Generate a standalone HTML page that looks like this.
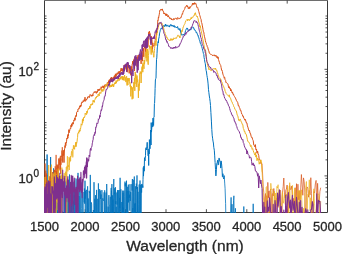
<!DOCTYPE html>
<html><head><meta charset="utf-8"><style>
html,body{margin:0;padding:0;background:#fff;width:342px;height:254px;overflow:hidden}
</style></head><body>
<svg width="342" height="254" viewBox="0 0 342 254" style="position:absolute;left:0;top:0;will-change:transform">
<defs><clipPath id="c"><rect x="44" y="0" width="284" height="213"/></clipPath></defs>
<path d="M44.5 0V212.5H327.5V0" fill="none" stroke="#3a3a3a" stroke-width="1"/>
<path d="M44 0.5H328" stroke="#6e6e6e" stroke-width="1"/>
<g stroke="#262626" stroke-width="0.8"><line x1="85.2" y1="212.5" x2="85.2" y2="209.2" /><line x1="85.2" y1="0.5" x2="85.2" y2="3.6" /><line x1="125.6" y1="212.5" x2="125.6" y2="209.2" /><line x1="125.6" y1="0.5" x2="125.6" y2="3.6" /><line x1="166.0" y1="212.5" x2="166.0" y2="209.2" /><line x1="166.0" y1="0.5" x2="166.0" y2="3.6" /><line x1="206.4" y1="212.5" x2="206.4" y2="209.2" /><line x1="206.4" y1="0.5" x2="206.4" y2="3.6" /><line x1="246.8" y1="212.5" x2="246.8" y2="209.2" /><line x1="246.8" y1="0.5" x2="246.8" y2="3.6" /><line x1="287.2" y1="212.5" x2="287.2" y2="209.2" /><line x1="287.2" y1="0.5" x2="287.2" y2="3.6" /><line x1="44.5" y1="203.77" x2="46.5" y2="203.77" /><line x1="327.5" y1="203.77" x2="325.5" y2="203.77" /><line x1="44.5" y1="197.11" x2="46.5" y2="197.11" /><line x1="327.5" y1="197.11" x2="325.5" y2="197.11" /><line x1="44.5" y1="191.94" x2="46.5" y2="191.94" /><line x1="327.5" y1="191.94" x2="325.5" y2="191.94" /><line x1="44.5" y1="187.72" x2="46.5" y2="187.72" /><line x1="327.5" y1="187.72" x2="325.5" y2="187.72" /><line x1="44.5" y1="184.16" x2="46.5" y2="184.16" /><line x1="327.5" y1="184.16" x2="325.5" y2="184.16" /><line x1="44.5" y1="181.07" x2="46.5" y2="181.07" /><line x1="327.5" y1="181.07" x2="325.5" y2="181.07" /><line x1="44.5" y1="178.34" x2="46.5" y2="178.34" /><line x1="327.5" y1="178.34" x2="325.5" y2="178.34" /><line x1="44.5" y1="175.9" x2="47.5" y2="175.9" /><line x1="327.5" y1="175.9" x2="324.5" y2="175.9" /><line x1="44.5" y1="159.86" x2="46.5" y2="159.86" /><line x1="327.5" y1="159.86" x2="325.5" y2="159.86" /><line x1="44.5" y1="150.47" x2="46.5" y2="150.47" /><line x1="327.5" y1="150.47" x2="325.5" y2="150.47" /><line x1="44.5" y1="143.81" x2="46.5" y2="143.81" /><line x1="327.5" y1="143.81" x2="325.5" y2="143.81" /><line x1="44.5" y1="138.64" x2="46.5" y2="138.64" /><line x1="327.5" y1="138.64" x2="325.5" y2="138.64" /><line x1="44.5" y1="134.42" x2="46.5" y2="134.42" /><line x1="327.5" y1="134.42" x2="325.5" y2="134.42" /><line x1="44.5" y1="130.86" x2="46.5" y2="130.86" /><line x1="327.5" y1="130.86" x2="325.5" y2="130.86" /><line x1="44.5" y1="127.77" x2="46.5" y2="127.77" /><line x1="327.5" y1="127.77" x2="325.5" y2="127.77" /><line x1="44.5" y1="125.04" x2="46.5" y2="125.04" /><line x1="327.5" y1="125.04" x2="325.5" y2="125.04" /><line x1="44.5" y1="122.6" x2="46.5" y2="122.6" /><line x1="327.5" y1="122.6" x2="325.5" y2="122.6" /><line x1="44.5" y1="106.56" x2="46.5" y2="106.56" /><line x1="327.5" y1="106.56" x2="325.5" y2="106.56" /><line x1="44.5" y1="97.17" x2="46.5" y2="97.17" /><line x1="327.5" y1="97.17" x2="325.5" y2="97.17" /><line x1="44.5" y1="90.51" x2="46.5" y2="90.51" /><line x1="327.5" y1="90.51" x2="325.5" y2="90.51" /><line x1="44.5" y1="85.34" x2="46.5" y2="85.34" /><line x1="327.5" y1="85.34" x2="325.5" y2="85.34" /><line x1="44.5" y1="81.12" x2="46.5" y2="81.12" /><line x1="327.5" y1="81.12" x2="325.5" y2="81.12" /><line x1="44.5" y1="77.56" x2="46.5" y2="77.56" /><line x1="327.5" y1="77.56" x2="325.5" y2="77.56" /><line x1="44.5" y1="74.47" x2="46.5" y2="74.47" /><line x1="327.5" y1="74.47" x2="325.5" y2="74.47" /><line x1="44.5" y1="71.74" x2="46.5" y2="71.74" /><line x1="327.5" y1="71.74" x2="325.5" y2="71.74" /><line x1="44.5" y1="69.3" x2="47.5" y2="69.3" /><line x1="327.5" y1="69.3" x2="324.5" y2="69.3" /><line x1="44.5" y1="53.26" x2="46.5" y2="53.26" /><line x1="327.5" y1="53.26" x2="325.5" y2="53.26" /><line x1="44.5" y1="43.87" x2="46.5" y2="43.87" /><line x1="327.5" y1="43.87" x2="325.5" y2="43.87" /><line x1="44.5" y1="37.21" x2="46.5" y2="37.21" /><line x1="327.5" y1="37.21" x2="325.5" y2="37.21" /><line x1="44.5" y1="32.04" x2="46.5" y2="32.04" /><line x1="327.5" y1="32.04" x2="325.5" y2="32.04" /><line x1="44.5" y1="27.82" x2="46.5" y2="27.82" /><line x1="327.5" y1="27.82" x2="325.5" y2="27.82" /><line x1="44.5" y1="24.26" x2="46.5" y2="24.26" /><line x1="327.5" y1="24.26" x2="325.5" y2="24.26" /><line x1="44.5" y1="21.17" x2="46.5" y2="21.17" /><line x1="327.5" y1="21.17" x2="325.5" y2="21.17" /><line x1="44.5" y1="18.44" x2="46.5" y2="18.44" /><line x1="327.5" y1="18.44" x2="325.5" y2="18.44" /><line x1="44.5" y1="16.0" x2="46.5" y2="16.0" /><line x1="327.5" y1="16.0" x2="325.5" y2="16.0" /></g>
<g clip-path="url(#c)"><polyline points="44.0,188.1 44.2,186.5 44.4,193.4 44.7,213.8 44.9,229.2 45.1,213.0 45.3,240.0 45.5,180.4 45.8,240.0 46.0,204.7 46.2,240.0 46.4,191.9 46.7,240.0 46.9,240.0 47.1,240.0 47.3,213.0 47.6,187.0 47.8,190.1 48.0,240.0 48.3,240.0 48.5,202.5 48.7,205.2 49.0,189.6 49.2,181.7 49.4,189.8 49.7,240.0 49.9,240.0 50.1,240.0 50.4,191.3 50.6,197.1 50.9,203.0 51.1,184.4 51.4,212.7 51.6,240.0 51.8,191.6 52.1,240.0 52.3,222.0 52.6,229.4 52.8,213.6 53.1,240.0 53.3,240.0 53.6,168.3 53.8,193.5 54.1,240.0 54.3,202.2 54.5,240.0 54.7,240.0 54.9,217.3 55.0,240.0 55.2,202.0 55.4,240.0 55.5,172.0 55.7,177.2 55.9,240.0 56.1,233.2 56.2,191.2 56.4,204.5 56.6,218.2 56.8,205.8 56.9,240.0 57.1,181.1 57.3,240.0 57.5,240.0 57.7,240.0 57.8,182.4 58.0,211.5 58.2,206.0 58.4,175.3 58.6,199.2 58.7,240.0 58.9,240.0 59.1,232.0 59.3,240.0 59.5,240.0 59.7,190.3 59.8,240.0 60.0,195.4 60.2,199.6 60.4,240.0 60.6,240.0 60.8,240.0 61.0,204.6 61.1,240.0 61.3,240.0 61.5,216.5 61.7,192.0 61.9,209.5 62.1,240.0 62.3,240.0 62.5,211.7 62.7,240.0 62.9,240.0 63.1,240.0 63.2,240.0 63.4,240.0 63.6,240.0 63.8,240.0 64.0,240.0 64.2,190.3 64.4,240.0 64.6,237.2 64.8,188.9 65.0,206.9 65.2,212.7 65.4,235.4 65.6,240.0 65.8,240.0 66.0,181.4 66.2,240.0 66.4,240.0 66.6,240.0 66.8,211.8 67.0,193.4 67.2,179.2 67.4,240.0 67.6,240.0 67.9,209.2 68.1,188.9 68.3,189.7 68.5,237.5 68.7,194.9 68.9,187.1 69.1,210.6 69.3,240.0 69.5,174.5 69.7,182.8 70.0,196.2 70.2,195.7 70.4,212.2 70.6,222.1 70.8,194.9 71.0,191.3 71.2,222.4 71.5,203.6 71.7,240.0 71.9,176.2 72.1,188.6 72.3,240.0 72.6,240.0 72.8,187.0 73.0,189.3 73.2,209.5 73.4,201.5 73.7,240.0 73.9,181.8 74.1,205.3 74.3,195.1 74.6,240.0 74.8,186.8 75.0,200.3 75.3,189.9 75.5,226.9 75.7,240.0 75.9,178.5 76.2,179.2 76.4,192.9 76.6,210.5 76.9,206.3 77.1,211.7 77.3,194.7 77.6,195.4 77.8,197.0 78.0,172.9 78.3,185.1 78.5,240.0 78.8,202.6 79.0,196.1 79.2,210.0 79.5,240.0 79.7,187.3 80.0,195.7 80.2,240.0 80.5,240.0 80.7,203.0 80.9,189.7 81.2,182.5 81.4,208.3 81.7,240.0 81.9,240.0 82.2,240.0 82.4,186.5 82.7,189.3 82.9,212.4 83.2,240.0 83.4,240.0 83.7,240.0 84.0,191.9 84.2,202.3 84.5,188.6 84.7,203.7 85.0,180.7 85.2,198.7 85.5,190.8 85.8,240.0 86.0,200.3 86.3,189.8 86.6,191.2 86.8,240.0 87.1,219.9 87.4,240.0 87.6,186.3 87.9,240.0 88.2,198.4 88.4,207.2 88.7,225.7 89.0,206.1 89.2,190.8 89.5,193.0 89.8,192.2 90.1,240.0 90.3,174.9 90.6,215.0 90.9,219.4 91.2,220.1 91.4,202.4 91.7,204.5 92.0,240.0 92.3,221.7 92.6,223.5 92.9,215.3 93.1,217.6 93.4,210.0 93.7,229.2 94.0,182.2 94.3,205.5 94.6,214.1 94.9,198.8 95.2,233.8 95.5,195.2 95.8,199.3 96.1,215.5 96.3,240.0 96.6,189.9 96.9,225.6 97.2,218.1 97.5,240.0 97.8,198.8 98.1,240.0 98.4,183.4 98.8,218.9 99.1,199.2 99.4,190.2 99.7,189.2 100.0,220.7 100.3,190.5 100.6,199.0 100.9,196.4 101.2,194.5 101.5,221.3 101.9,190.1 102.2,201.4 102.5,240.0 102.8,198.3 103.1,200.3 103.4,200.4 103.8,200.9 104.1,192.3 104.4,240.0 104.7,190.3 105.1,205.2 105.4,240.0 105.7,209.8 106.1,192.5 106.4,240.0 106.7,184.0 107.1,203.1 107.4,240.0 107.7,240.0 108.1,206.6 108.4,240.0 108.7,197.8 108.9,195.1 109.1,204.5 109.3,204.6 109.4,205.2 109.6,206.2 109.8,212.8 109.9,211.1 110.1,203.0 110.3,196.8 110.5,217.5 110.6,240.0 110.8,240.0 111.0,192.3 111.2,187.9 111.3,240.0 111.5,190.8 111.7,198.7 111.9,184.1 112.0,195.8 112.2,213.5 112.4,195.3 112.6,203.3 112.7,240.0 112.9,199.6 113.1,232.9 113.3,240.0 113.5,206.9 113.6,186.7 113.8,179.0 114.0,212.1 114.2,200.2 114.4,192.6 114.5,194.1 114.7,188.2 114.9,240.0 115.1,240.0 115.3,240.0 115.4,187.2 115.6,204.1 115.8,201.2 116.0,240.0 116.2,206.8 116.4,226.3 116.6,214.5 116.7,240.0 116.9,192.5 117.1,204.6 117.3,191.7 117.5,190.2 117.7,240.0 117.9,216.6 118.0,203.2 118.2,190.1 118.4,194.2 118.6,240.0 118.8,209.0 119.0,193.0 119.2,190.0 119.4,197.2 119.6,227.6 119.7,197.8 119.9,207.9 120.1,177.8 120.3,210.8 120.5,210.2 120.7,211.8 120.9,189.3 121.1,240.0 121.3,240.0 121.5,236.0 121.7,240.0 121.9,202.0 122.1,240.0 122.3,202.3 122.5,219.8 122.7,190.6 122.9,227.1 123.0,192.8 123.2,240.0 123.4,207.7 123.6,240.0 123.8,190.7 124.0,232.5 124.2,231.0 124.4,240.0 124.6,196.1 124.8,185.8 125.0,181.6 125.2,186.3 125.4,183.2 125.7,240.0 125.9,225.7 126.1,240.0 126.3,240.0 126.5,180.7 126.7,235.8 126.9,203.9 127.1,190.9 127.3,200.6 127.5,213.7 127.7,186.8 127.9,233.1 128.1,201.4 128.3,184.6 128.5,202.4 128.7,195.8 128.9,190.9 129.2,197.9 129.4,194.7 129.6,196.9 129.8,210.7 130.0,184.2 130.2,201.0 130.4,200.3 130.6,191.9 130.8,192.9 131.1,216.9 131.3,240.0 131.5,240.0 131.7,220.7 131.9,184.1 132.1,190.5 132.4,179.0 132.6,240.0 132.8,208.0 133.0,225.8 133.2,179.8 133.4,182.6 133.7,240.0 133.9,219.1 134.1,192.5 134.3,176.5 134.5,240.0 134.8,203.8 135.0,240.0 135.2,202.9 135.4,212.1 135.6,186.3 135.9,202.9 136.1,240.0 136.3,183.6 136.5,187.5 136.8,189.1 137.0,175.4 137.2,240.0 137.5,187.0 137.7,238.1 137.9,192.0 138.1,191.9 138.4,240.0 138.6,217.4 138.8,204.4 139.1,185.2 139.3,184.4 139.5,240.0 139.7,199.7 140.0,180.5 140.2,196.0 140.4,240.0 140.7,184.9 140.9,240.0 141.1,240.0 141.4,184.4 141.6,192.6 141.9,184.0 142.1,184.0 142.3,184.9 142.6,185.4 142.8,187.6" fill="none" stroke="#0072BD" stroke-width="0.8" stroke-linejoin="round"/><polyline points="142.6,185.4 142.8,187.6 143.0,179.7 143.3,167.5 143.5,176.1 143.8,168.9 144.0,166.0 144.2,171.2 144.5,157.7 144.7,159.0 145.0,160.9 145.2,158.9 145.5,155.4 145.7,148.3 145.9,148.3 146.2,147.6 146.4,148.8 146.7,149.9 146.9,146.9 147.2,142.3 147.4,148.5 147.7,148.7 147.9,152.3 148.2,155.9 148.4,151.5 148.7,165.5 148.9,148.9 149.2,153.9 149.4,139.6 149.7,144.6 149.9,148.9 150.2,146.7 150.5,140.1 150.7,130.0 151.0,145.0 151.2,122.6 151.5,132.1 151.7,129.0 152.0,126.3 152.3,126.7 152.5,122.4 152.8,126.8 153.0,118.1 153.3,125.1 153.6,125.5 153.8,117.3 154.1,117.1 154.4,103.6 154.6,103.2 154.9,95.8 155.1,88.5 155.4,79.9 155.7,78.6 156.0,78.2 156.2,70.1 156.5,59.7 156.8,57.9 157.0,53.7 157.3,47.9 157.6,46.2 157.8,43.8 158.1,41.5 158.4,42.9 158.7,38.4 158.9,38.5 159.2,36.6 159.5,33.9 159.8,32.3 160.0,31.7 160.3,30.3 160.6,29.8 160.9,28.9 161.2,28.0 161.4,28.5 161.7,28.1 162.0,28.3 162.3,27.7 162.6,26.1 162.8,27.0 163.1,26.4 163.4,25.5 163.7,26.3 164.0,26.0 164.3,25.5 164.6,26.6 164.9,26.0 165.1,26.0 165.4,24.1 165.7,25.8 166.0,25.5 166.3,24.8 166.6,25.0 166.9,26.4 167.2,25.7 167.5,25.3 167.8,24.9 168.1,25.8 168.4,26.4 168.7,26.0 169.0,25.8 169.3,25.8 169.6,27.1 169.9,25.3 170.2,25.5 170.5,25.3 170.8,24.4 171.1,25.6 171.4,24.9 171.7,25.9 172.0,26.3 172.3,25.5 172.6,25.1 172.9,26.1 173.2,26.1 173.5,26.7 173.8,25.5 174.2,25.4 174.5,27.3 174.8,26.8 175.1,26.5 175.4,26.8 175.7,26.7 176.0,27.7 176.4,27.3 176.7,27.0 177.0,27.9 177.3,27.1 177.6,26.5 177.9,27.7 178.3,29.4 178.6,28.8 178.9,28.7 179.2,29.3 179.6,30.3 179.9,28.5 180.2,29.5 180.5,31.0 180.9,33.2 181.2,34.5 181.5,33.6 181.9,35.3 182.2,35.3 182.5,34.9 182.9,34.5 183.2,34.0 183.5,34.7 183.9,34.6 184.2,34.8 184.5,34.0 184.9,33.4 185.2,32.2 185.5,30.7 185.9,30.1 186.2,28.9 186.6,28.4 186.9,27.9 187.3,29.0 187.6,28.4 188.0,30.0 188.3,30.8 188.7,30.6 189.0,29.8 189.3,30.2 189.7,30.6 190.1,30.1 190.4,29.5 190.8,29.6 191.1,29.7 191.5,28.9 191.8,27.8 192.2,26.8 192.5,26.9 192.9,27.3 193.3,27.3 193.6,27.4 194.0,29.4 194.3,29.2 194.7,30.2 195.1,30.0 195.4,30.5 195.8,31.1 196.2,32.7 196.5,32.1 196.9,32.8 197.3,34.2 197.7,35.1 198.0,34.9 198.4,37.3 198.8,37.3 199.2,39.4 199.5,40.1 199.9,41.0 200.3,43.4 200.7,43.4 201.1,44.7 201.4,46.0 201.8,46.7 202.2,48.4 202.6,50.2 203.0,51.7 203.4,53.5 203.8,54.5 204.1,57.6 204.5,59.5 204.9,62.2 205.3,63.7 205.7,67.1 206.1,70.4 206.5,72.0 206.9,75.3 207.3,77.7 207.7,80.0 208.1,83.9 208.5,89.7 208.9,92.7 209.3,96.0 209.7,98.3 210.1,101.3 210.5,105.5 210.9,112.4 211.4,121.1 211.8,129.4 212.2,135.2 212.6,138.2 213.0,141.1 213.4,143.0 213.8,147.4 214.3,150.2 214.7,155.9 215.1,162.5 215.5,169.5 215.9,175.9 216.4,169.8 216.8,163.3 217.2,162.5 217.6,160.2 218.1,165.1 218.5,164.7 218.9,158.1 219.4,158.3 219.8,161.4 220.2,161.4 220.7,168.1 221.1,160.9 221.6,164.0 222.0,168.6 222.4,176.7 222.9,173.7 223.3,177.7 223.8,179.0 224.2,175.6" fill="none" stroke="#0072BD" stroke-width="1.0" stroke-linejoin="round"/><polyline points="224.2,175.6 224.7,183.1 225.1,188.8 225.6,203.7 226.0,225.2 226.5,235.4 226.9,240.0 227.4,240.0 227.9,225.7 228.3,240.0 228.8,240.0 229.2,239.0 229.7,240.0 230.2,240.0 230.6,213.7 231.1,197.4 231.6,228.8 232.0,204.2 232.5,227.6 233.0,240.0 233.5,200.7 233.9,195.8 234.4,240.0 234.9,234.7 235.4,208.3 235.9,240.0 236.3,240.0 236.8,240.0 237.3,233.5 237.8,240.0 238.3,240.0 238.8,240.0 239.3,236.1 239.8,240.0 240.3,223.2 240.8,216.7 241.3,240.0 241.8,240.0 242.3,240.0 242.8,240.0 243.3,240.0 243.8,206.5 244.3,240.0 244.8,221.1 245.3,240.0 245.8,240.0 246.4,239.4 246.9,240.0 247.4,235.3 247.9,214.6 248.4,238.1 249.0,219.1 249.5,231.1 250.0,240.0 250.5,240.0 251.1,240.0 251.6,214.3 252.1,234.2 252.7,240.0 253.2,203.8 253.8,240.0 254.3,240.0 254.8,240.0 255.4,217.3 255.9,240.0 256.5,240.0 257.0,227.8 257.6,240.0 258.1,240.0 258.7,240.0 259.2,240.0 259.8,240.0 260.4,240.0 260.9,224.8 261.5,240.0 262.1,240.0 262.6,240.0 263.2,240.0 263.8,240.0 264.4,233.8 264.9,240.0 265.5,240.0 266.1,240.0 266.7,240.0 267.3,240.0 267.8,240.0 268.4,240.0 269.0,240.0 269.6,240.0 270.2,240.0 270.8,220.7 271.4,240.0 272.0,240.0 272.6,240.0 273.2,240.0 273.8,240.0 274.4,240.0 275.0,240.0 275.7,240.0 276.3,240.0 276.9,240.0 277.5,240.0 278.1,240.0 278.8,240.0 279.4,240.0 280.0,237.9 280.6,240.0 281.3,240.0 281.9,240.0 282.5,240.0 283.2,240.0 283.8,233.4 284.5,240.0 285.1,236.7 285.8,240.0 286.4,240.0 287.1,240.0 287.7,240.0 288.4,240.0 289.0,240.0 289.7,236.2 290.4,240.0 291.0,240.0 291.7,240.0 292.4,231.5 293.1,240.0 293.7,240.0 294.4,240.0 295.1,225.4 295.8,240.0 296.5,231.4 297.2,240.0 297.9,240.0 298.6,240.0 299.3,237.4 300.0,240.0 300.7,240.0 301.4,240.0 302.1,231.4 302.8,240.0 303.5,240.0 304.2,240.0 304.9,226.3 305.7,230.0 306.4,240.0 307.1,240.0 307.8,226.1 308.6,235.7 309.3,240.0 310.1,240.0 310.8,240.0 311.5,240.0 312.3,240.0 313.0,240.0 313.8,240.0 314.5,237.2 315.3,240.0 316.1,235.1 316.8,232.6 317.6,222.2 318.4,240.0 319.1,236.5 319.9,231.2 320.7,240.0" fill="none" stroke="#0072BD" stroke-width="0.8" stroke-linejoin="round"/><polyline points="46.6,214 47.1,154.5 47.6,214" fill="none" stroke="#0072BD" stroke-width="0.9"/><polyline points="50.1,214 50.6,157 51.1,214" fill="none" stroke="#0072BD" stroke-width="0.9"/><polyline points="44.0,206.0 44.2,198.9 44.4,200.1 44.7,185.6 44.9,192.0 45.1,163.5 45.3,191.6 45.5,194.4 45.8,170.7 46.0,192.9 46.2,221.3 46.4,173.5 46.7,192.8 46.9,224.3 47.1,184.8 47.3,186.3 47.6,191.2 47.8,180.6 48.0,185.3 48.3,203.9 48.5,182.8 48.7,188.3 49.0,181.4 49.2,185.0 49.4,176.3 49.7,190.1 49.9,178.4 50.1,203.7 50.4,195.0 50.6,167.3 50.9,181.3 51.1,181.8 51.4,182.3 51.6,177.8 51.8,200.8 52.1,200.5 52.3,174.6 52.6,172.0 52.8,176.6 53.1,179.1 53.3,240.0 53.6,175.4 53.8,182.9 54.1,169.9 54.3,174.8 54.5,169.9 54.7,173.9 54.9,191.1 55.0,185.5 55.2,166.3 55.4,168.2 55.5,221.1 55.7,171.4 55.9,174.6 56.1,154.9 56.2,181.6 56.4,171.0 56.6,188.4 56.8,164.6 56.9,168.8 57.1,167.9 57.3,178.1 57.5,165.5 57.7,170.4 57.8,168.5 58.0,164.5 58.2,184.5 58.4,165.0 58.6,158.5 58.7,161.8 58.9,166.6 59.1,170.4 59.3,163.7 59.5,159.5 59.7,164.9 59.8,157.7 60.0,161.8 60.2,169.1 60.4,155.8 60.6,173.8 60.8,158.7 61.0,164.8 61.1,159.7 61.3,156.0 61.5,156.7 61.7,154.5 61.9,150.5 62.1,160.7 62.3,147.2 62.5,162.5 62.7,153.7 62.9,154.8 63.1,154.0 63.2,155.8 63.4,152.1 63.6,155.2 63.8,150.4" fill="none" stroke="#D95319" stroke-width="0.7" stroke-linejoin="round"/><polyline points="63.6,155.2 63.8,150.4 64.0,162.6 64.2,150.5 64.4,151.2 64.6,148.4 64.8,148.5 65.0,145.6 65.2,147.5 65.4,142.7 65.6,144.4 65.8,145.7 66.0,144.0 66.2,142.0 66.4,142.7 66.6,141.2 66.8,138.5 67.0,138.0 67.2,139.0 67.4,137.9 67.6,135.5 67.9,138.2 68.1,134.2 68.3,136.0 68.5,133.8 68.7,132.4 68.9,129.6 69.1,132.8 69.3,130.9 69.5,130.0 69.7,130.6 70.0,129.3 70.2,128.6 70.4,129.0 70.6,128.4 70.8,128.5 71.0,125.2 71.2,126.9 71.5,125.7 71.7,123.8 71.9,126.3 72.1,125.1 72.3,123.4 72.6,123.9 72.8,122.7 73.0,122.2 73.2,124.2 73.4,122.5 73.7,121.7 73.9,119.9 74.1,120.6 74.3,120.1 74.6,119.5 74.8,117.9 75.0,120.3 75.3,117.3 75.5,116.1 75.7,115.5 75.9,116.6 76.2,116.4 76.4,116.4 76.6,112.3 76.9,111.9 77.1,111.9 77.3,111.7 77.6,111.0 77.8,111.7 78.0,109.0 78.3,109.2 78.5,108.8 78.8,108.4 79.0,109.1 79.2,108.2 79.5,106.5 79.7,105.8 80.0,106.8 80.2,107.2 80.5,105.2 80.7,106.9 80.9,105.0 81.2,105.6 81.4,103.0 81.7,103.1 81.9,101.9 82.2,101.9 82.4,102.4 82.7,102.5 82.9,101.5 83.2,100.6 83.4,101.6 83.7,101.6 84.0,100.3 84.2,99.6 84.5,101.2 84.7,100.6 85.0,97.2 85.2,100.5 85.5,101.3 85.8,100.1 86.0,100.3 86.3,99.1 86.6,99.8 86.8,98.9 87.1,99.1 87.4,98.8 87.6,96.9 87.9,97.1 88.2,97.5 88.4,96.6 88.7,96.4 89.0,96.3 89.2,96.5 89.5,97.5 89.8,95.9 90.1,94.5 90.3,95.3 90.6,95.0 90.9,95.1 91.2,95.3 91.4,96.2 91.7,95.2 92.0,96.3 92.3,94.6 92.6,94.9 92.9,96.0 93.1,93.3 93.4,93.2 93.7,92.6 94.0,92.3 94.3,91.6 94.6,91.9 94.9,92.9 95.2,91.5 95.5,91.5 95.8,91.9 96.1,92.7 96.3,93.4 96.6,91.7 96.9,91.4 97.2,90.9 97.5,92.4 97.8,90.3 98.1,89.0 98.4,91.0 98.8,90.5 99.1,89.1 99.4,89.1 99.7,90.4 100.0,88.8 100.3,88.8 100.6,89.2 100.9,88.5 101.2,86.7 101.5,88.4 101.9,88.2 102.2,87.0 102.5,86.6 102.8,85.8 103.1,87.5 103.4,88.1 103.8,86.0 104.1,88.5 104.4,85.3 104.7,84.8 105.1,86.7 105.4,84.8 105.7,84.6 106.1,85.8 106.4,84.9 106.7,86.1 107.1,83.9 107.4,82.5 107.7,84.4 108.1,82.4 108.4,82.6 108.7,81.1 108.9,84.6 109.1,79.9 109.3,82.8 109.4,81.4 109.6,79.9 109.8,80.6 109.9,81.6 110.1,79.2 110.3,81.4 110.5,78.0 110.6,77.8 110.8,79.8 111.0,79.0 111.2,81.9 111.3,78.4 111.5,77.2 111.7,79.7 111.9,78.3 112.0,77.6 112.2,79.9 112.4,78.4 112.6,78.2 112.7,78.5 112.9,78.7 113.1,79.1 113.3,77.5 113.5,79.3 113.6,77.4 113.8,80.8 114.0,76.8 114.2,77.5 114.4,75.6 114.5,79.5 114.7,78.9 114.9,76.7 115.1,75.7 115.3,78.6 115.4,73.8 115.6,77.4 115.8,75.4 116.0,74.9 116.2,74.6 116.4,74.8 116.6,75.7 116.7,73.6 116.9,74.3 117.1,74.4 117.3,72.7 117.5,73.3 117.7,74.1 117.9,74.2 118.0,73.6 118.2,74.1 118.4,71.6 118.6,72.1 118.8,73.2 119.0,72.7 119.2,72.0 119.4,71.2 119.6,71.5 119.7,73.7 119.9,72.8 120.1,71.9 120.3,72.4 120.5,70.5 120.7,70.8 120.9,70.0 121.1,68.2 121.3,71.1 121.5,70.1 121.7,70.8 121.9,68.4 122.1,68.9 122.3,70.6 122.5,71.5 122.7,68.9 122.9,68.8 123.0,70.6 123.2,70.1 123.4,71.6 123.6,68.6 123.8,66.8 124.0,67.0 124.2,69.3 124.4,65.2 124.6,69.3 124.8,70.1 125.0,64.6 125.2,67.5 125.4,66.1 125.7,66.2 125.9,68.4 126.1,69.0 126.3,67.2 126.5,65.6 126.7,66.5 126.9,65.1 127.1,71.7 127.3,72.2 127.5,64.3 127.7,68.5 127.9,65.8 128.1,64.6 128.3,64.3 128.5,66.2 128.7,66.1 128.9,65.8 129.2,73.4 129.4,65.2 129.6,67.0 129.8,66.9 130.0,67.2 130.2,68.0 130.4,69.1 130.6,67.3 130.8,75.3 131.1,73.3 131.3,66.3 131.5,69.4 131.7,67.3 131.9,71.0 132.1,64.5 132.4,64.1 132.6,61.2 132.8,63.2 133.0,64.4 133.2,62.9 133.4,64.5 133.7,60.3 133.9,61.1 134.1,58.8 134.3,61.0 134.5,70.8 134.8,57.7 135.0,58.1 135.2,56.9 135.4,60.6 135.6,57.0 135.9,63.3 136.1,61.0 136.3,57.0 136.5,61.0 136.8,57.4 137.0,66.5 137.2,57.4 137.5,68.6 137.7,64.8 137.9,55.5 138.1,55.2 138.4,62.6 138.6,55.5 138.8,57.2 139.1,57.5 139.3,55.0 139.5,56.4 139.7,54.7 140.0,54.4 140.2,56.0 140.4,55.8 140.7,55.8 140.9,59.3 141.1,63.9 141.4,54.6 141.6,51.4 141.9,53.8 142.1,56.5 142.3,55.5 142.6,61.2 142.8,50.3 143.0,48.6 143.3,48.6 143.5,48.6 143.8,56.8 144.0,48.1 144.2,48.1 144.5,47.0 144.7,48.1 145.0,45.2 145.2,43.6 145.5,51.7 145.7,41.5 145.9,43.6 146.2,41.4 146.4,41.7 146.7,42.4 146.9,39.1 147.2,40.2 147.4,38.6 147.7,36.8 147.9,46.8 148.2,41.0 148.4,36.9 148.7,32.7 148.9,31.9 149.2,34.0 149.4,31.2 149.7,32.6 149.9,32.8 150.2,33.5 150.5,43.3 150.7,39.1 151.0,39.0 151.2,43.2 151.5,36.3 151.7,36.9 152.0,39.3 152.3,50.6 152.5,51.6 152.8,42.8 153.0,44.5 153.3,45.8 153.6,46.3 153.8,45.7 154.1,45.3 154.4,45.6 154.6,44.7 154.9,42.6 155.1,40.7 155.4,38.3 155.7,37.5 156.0,37.2 156.2,32.9 156.5,34.9 156.8,29.8 157.0,28.9 157.3,27.5 157.6,24.9 157.8,20.2 158.1,20.6 158.4,17.1 158.7,17.8 158.9,16.0 159.2,14.8 159.5,12.7 159.8,10.4 160.0,10.7 160.3,10.0 160.6,9.5 160.9,9.5 161.2,10.1 161.4,9.4 161.7,10.0 162.0,9.9 162.3,8.9 162.6,10.0 162.8,11.0 163.1,11.4 163.4,11.3 163.7,12.8 164.0,14.0 164.3,12.9 164.6,14.1 164.9,13.4 165.1,13.6 165.4,13.8 165.7,15.5 166.0,14.5 166.3,13.8 166.6,15.7 166.9,14.1 167.2,15.3 167.5,16.5 167.8,16.6 168.1,17.1 168.4,15.5 168.7,16.9 169.0,17.2 169.3,17.2 169.6,18.0 169.9,18.7 170.2,17.8 170.5,18.4 170.8,18.8 171.1,18.3 171.4,19.9 171.7,19.0 172.0,18.9 172.3,19.7 172.6,19.8 172.9,19.9 173.2,20.1 173.5,18.6 173.8,19.0 174.2,19.2 174.5,19.5 174.8,18.5 175.1,18.9 175.4,18.4 175.7,18.2 176.0,18.4 176.4,18.6 176.7,18.4 177.0,19.5 177.3,17.7 177.6,17.7 177.9,18.0 178.3,17.9 178.6,18.4 178.9,19.1 179.2,18.5 179.6,18.2 179.9,18.7 180.2,18.0 180.5,17.6 180.9,17.9 181.2,17.0 181.5,15.8 181.9,15.1 182.2,13.8 182.5,14.2 182.9,12.6 183.2,11.1 183.5,11.3 183.9,10.2 184.2,9.7 184.5,9.4 184.9,8.3 185.2,6.8 185.5,7.1 185.9,6.7 186.2,5.8 186.6,5.9 186.9,5.1 187.3,7.0 187.6,6.1 188.0,7.0 188.3,8.6 188.7,7.8 189.0,8.6 189.3,7.2 189.7,8.5 190.1,6.6 190.4,7.3 190.8,6.5 191.1,6.3 191.5,5.9 191.8,5.8 192.2,4.4 192.5,3.2 192.9,4.9 193.3,4.2 193.6,3.1 194.0,4.3 194.3,4.2 194.7,2.6 195.1,3.1 195.4,4.2 195.8,3.5 196.2,4.3 196.5,5.7 196.9,7.3 197.3,8.0 197.7,7.6 198.0,8.7 198.4,10.2 198.8,11.5 199.2,13.0 199.5,14.4 199.9,15.6 200.3,17.2 200.7,18.6 201.1,19.4 201.4,22.3 201.8,22.8 202.2,25.1 202.6,27.0 203.0,29.4 203.4,31.9 203.8,32.1 204.1,34.5 204.5,36.8 204.9,38.0 205.3,40.3 205.7,42.1 206.1,42.9 206.5,44.6 206.9,45.1 207.3,46.8 207.7,47.2 208.1,49.0 208.5,50.3 208.9,51.0 209.3,53.1 209.7,53.2 210.1,53.9 210.5,54.4 210.9,54.4 211.4,54.5 211.8,54.8 212.2,55.0 212.6,55.7 213.0,54.9 213.4,55.3 213.8,55.4 214.3,54.8 214.7,55.9 215.1,55.7 215.5,56.2 215.9,55.1 216.4,57.4 216.8,57.1 217.2,56.4 217.6,58.3 218.1,56.9 218.5,59.5 218.9,60.9 219.4,62.4 219.8,64.0 220.2,64.5 220.7,65.4 221.1,67.5 221.6,70.2 222.0,70.1 222.4,71.5 222.9,74.1 223.3,75.4 223.8,76.1 224.2,78.2 224.7,77.4 225.1,79.9 225.6,80.4 226.0,82.8 226.5,82.7 226.9,82.9 227.4,83.4 227.9,83.8 228.3,86.1 228.8,87.8 229.2,86.6 229.7,88.5 230.2,88.0 230.6,91.0 231.1,89.5 231.6,91.5 232.0,92.7 232.5,91.9 233.0,94.5 233.5,94.1 233.9,95.6 234.4,96.4 234.9,97.1 235.4,98.1 235.9,99.0 236.3,100.3 236.8,101.0 237.3,101.9 237.8,102.7 238.3,105.8 238.8,105.5 239.3,107.4 239.8,108.1 240.3,110.4 240.8,110.2 241.3,112.3 241.8,114.1 242.3,114.5 242.8,116.4 243.3,116.1 243.8,118.3 244.3,118.6 244.8,120.2 245.3,119.3 245.8,121.0 246.4,123.0 246.9,122.9 247.4,125.9 247.9,127.1 248.4,129.1 249.0,131.0 249.5,130.4 250.0,133.4 250.5,133.4 251.1,136.2 251.6,137.5 252.1,137.3 252.7,139.7 253.2,140.6 253.8,145.1 254.3,145.4 254.8,146.8 255.4,144.6 255.9,149.7 256.5,149.0 257.0,153.2 257.6,151.0 258.1,153.9 258.7,155.3 259.2,159.2 259.8,160.2 260.4,160.1 260.9,163.6 261.5,162.9 262.1,165.1" fill="none" stroke="#D95319" stroke-width="1.0" stroke-linejoin="round"/><polyline points="262.1,165.1 262.6,174.0 263.2,186.6 263.8,192.4 264.4,211.1 264.9,198.0 265.5,193.5 266.1,226.3 266.7,195.6 267.3,228.2 267.8,182.4 268.4,197.8 269.0,191.0 269.6,223.6 270.2,190.5 270.8,189.1 271.4,195.0 272.0,217.7 272.6,193.5 273.2,196.0 273.8,188.5 274.4,196.1 275.0,199.5 275.7,227.8 276.3,207.8 276.9,198.0 277.5,204.1 278.1,207.4 278.8,194.2 279.4,193.9 280.0,190.0 280.6,190.6 281.3,228.6 281.9,217.7 282.5,192.3 283.2,186.5 283.8,178.0 284.5,194.0 285.1,197.8 285.8,189.9 286.4,189.1 287.1,185.0 287.7,221.7 288.4,211.1 289.0,191.0 289.7,185.5 290.4,189.4 291.0,189.5 291.7,186.1 292.4,196.8 293.1,205.4 293.7,198.3 294.4,212.8 295.1,187.7 295.8,210.0 296.5,183.7 297.2,212.4 297.9,184.2 298.6,199.8 299.3,191.0 300.0,211.7 300.7,187.9 301.4,174.5 302.1,184.9 302.8,195.3 303.5,177.9 304.2,181.5 304.9,192.6 305.7,236.5 306.4,190.0 307.1,186.9 307.8,188.5 308.6,197.2 309.3,190.4 310.1,194.8 310.8,177.7 311.5,193.3 312.3,240.0 313.0,209.6 313.8,191.6 314.5,192.8 315.3,184.0 316.1,180.4 316.8,209.4 317.6,183.3 318.4,201.5 319.1,203.8 319.9,191.7 320.7,187.7" fill="none" stroke="#D95319" stroke-width="0.7" stroke-linejoin="round"/><polyline points="44.0,240.0 44.2,240.0 44.4,212.5 44.7,193.0 44.9,185.0 45.1,176.9 45.3,240.0 45.5,185.7 45.8,229.1 46.0,190.8 46.2,193.9 46.4,240.0 46.7,222.6 46.9,186.6 47.1,191.0 47.3,240.0 47.6,240.0 47.8,207.5 48.0,200.4 48.3,195.0 48.5,200.8 48.7,165.0 49.0,240.0 49.2,220.2 49.4,189.0 49.7,240.0 49.9,207.8 50.1,195.8 50.4,237.9 50.6,197.0 50.9,196.1 51.1,184.8 51.4,164.6 51.6,190.1 51.8,203.8 52.1,190.8 52.3,184.9 52.6,206.2 52.8,231.2 53.1,180.5 53.3,173.5 53.6,198.0 53.8,195.5 54.1,240.0 54.3,240.0 54.5,204.9 54.7,179.9 54.9,178.6 55.0,172.4 55.2,191.8 55.4,176.4 55.5,189.1 55.7,185.0 55.9,188.0 56.1,174.3 56.2,240.0 56.4,185.2 56.6,175.2 56.8,201.5 56.9,198.0 57.1,190.8 57.3,188.6 57.5,202.7 57.7,199.5 57.8,197.6 58.0,210.2 58.2,168.6 58.4,191.2 58.6,187.1 58.7,192.7 58.9,201.6 59.1,215.6 59.3,182.7 59.5,183.7 59.7,188.6 59.8,189.4 60.0,181.0 60.2,184.7 60.4,179.5 60.6,181.3 60.8,176.0 61.0,209.9 61.1,179.9 61.3,175.0 61.5,240.0 61.7,183.6 61.9,167.6 62.1,177.2 62.3,183.7 62.5,184.2 62.7,182.2 62.9,186.8 63.1,181.8 63.2,188.2 63.4,190.1 63.6,175.7 63.8,178.9 64.0,175.5 64.2,173.1 64.4,177.1 64.6,180.6 64.8,179.7 65.0,182.3 65.2,181.3 65.4,171.7 65.6,174.5 65.8,174.0 66.0,176.8 66.2,167.0 66.4,167.4 66.6,189.0 66.8,240.0 67.0,166.2 67.2,168.5 67.4,156.2 67.6,166.8 67.9,171.4 68.1,165.0 68.3,166.6 68.5,165.9 68.7,166.7 68.9,161.5 69.1,157.0 69.3,170.0 69.5,158.1 69.7,162.3 70.0,161.9 70.2,161.5 70.4,156.1 70.6,161.0 70.8,156.4 71.0,157.0 71.2,154.6 71.5,151.3 71.7,153.4 71.9,155.6 72.1,153.2 72.3,148.9 72.6,151.7 72.8,157.4 73.0,154.6 73.2,149.1 73.4,145.1 73.7,146.1 73.9,148.9" fill="none" stroke="#EDB120" stroke-width="0.7" stroke-linejoin="round"/><polyline points="73.7,146.1 73.9,148.9 74.1,148.3 74.3,148.6 74.6,149.3 74.8,145.5 75.0,145.7 75.3,145.7 75.5,146.5 75.7,142.3 75.9,145.3 76.2,146.6 76.4,142.1 76.6,143.6 76.9,142.4 77.1,141.2 77.3,138.9 77.6,137.4 77.8,133.3 78.0,133.4 78.3,133.2 78.5,132.2 78.8,133.3 79.0,130.6 79.2,130.6 79.5,131.8 79.7,129.8 80.0,131.2 80.2,128.7 80.5,129.1 80.7,127.9 80.9,127.1 81.2,123.8 81.4,124.0 81.7,124.9 81.9,125.2 82.2,124.1 82.4,119.6 82.7,122.8 82.9,118.8 83.2,121.1 83.4,119.0 83.7,117.4 84.0,117.8 84.2,118.0 84.5,116.8 84.7,116.9 85.0,115.7 85.2,113.2 85.5,114.1 85.8,114.1 86.0,113.7 86.3,114.4 86.6,114.7 86.8,111.2 87.1,113.3 87.4,112.3 87.6,110.4 87.9,109.6 88.2,109.7 88.4,108.2 88.7,109.1 89.0,108.3 89.2,108.1 89.5,108.7 89.8,106.2 90.1,108.4 90.3,105.4 90.6,105.2 90.9,104.2 91.2,105.4 91.4,104.6 91.7,103.9 92.0,104.7 92.3,103.5 92.6,104.5 92.9,102.3 93.1,100.3 93.4,102.0 93.7,100.4 94.0,100.9 94.3,102.4 94.6,100.4 94.9,99.8 95.2,99.0 95.5,97.6 95.8,97.5 96.1,98.2 96.3,98.0 96.6,96.2 96.9,96.6 97.2,96.4 97.5,96.0 97.8,96.6 98.1,94.1 98.4,94.6 98.8,93.9 99.1,96.0 99.4,93.2 99.7,92.5 100.0,93.6 100.3,92.6 100.6,93.0 100.9,93.3 101.2,91.8 101.5,88.7 101.9,91.1 102.2,89.6 102.5,89.8 102.8,91.6 103.1,89.1 103.4,89.4 103.8,90.5 104.1,88.9 104.4,88.2 104.7,88.4 105.1,86.9 105.4,84.8 105.7,85.4 106.1,85.2 106.4,84.5 106.7,84.9 107.1,86.6 107.4,82.8 107.7,83.3 108.1,83.9 108.4,83.9 108.7,84.0 108.9,85.0 109.1,86.1 109.3,85.5 109.4,85.7 109.6,86.7 109.8,87.4 109.9,85.4 110.1,86.6 110.3,85.5 110.5,85.6 110.6,85.6 110.8,86.2 111.0,86.3 111.2,87.0 111.3,85.1 111.5,86.9 111.7,84.7 111.9,85.7 112.0,85.8 112.2,85.2 112.4,86.3 112.6,83.8 112.7,85.0 112.9,85.9 113.1,85.0 113.3,84.3 113.5,84.6 113.6,87.0 113.8,85.5 114.0,85.5 114.2,84.8 114.4,83.5 114.5,82.8 114.7,83.9 114.9,83.1 115.1,82.8 115.3,83.9 115.4,82.1 115.6,83.5 115.8,84.0 116.0,80.6 116.2,81.3 116.4,83.0 116.6,82.0 116.7,81.0 116.9,80.6 117.1,80.8 117.3,80.6 117.5,79.5 117.7,81.4 117.9,80.3 118.0,80.2 118.2,80.4 118.4,80.3 118.6,79.6 118.8,78.0 119.0,79.4 119.2,80.6 119.4,78.0 119.6,78.9 119.7,78.7 119.9,78.4 120.1,78.8 120.3,77.1 120.5,79.3 120.7,78.7 120.9,78.1 121.1,76.9 121.3,76.8 121.5,76.4 121.7,78.4 121.9,77.2 122.1,77.4 122.3,80.1 122.5,78.2 122.7,76.0 122.9,78.0 123.0,78.9 123.2,76.7 123.4,77.6 123.6,80.3 123.8,77.2 124.0,78.1 124.2,77.3 124.4,77.3 124.6,75.0 124.8,77.4 125.0,80.7 125.2,77.8 125.4,78.0 125.7,77.5 125.9,82.1 126.1,78.4 126.3,76.7 126.5,76.1 126.7,76.6 126.9,84.2 127.1,85.5 127.3,81.1 127.5,78.3 127.7,78.9 127.9,85.0 128.1,78.4 128.3,78.4 128.5,78.3 128.7,81.2 128.9,80.5 129.2,78.1 129.4,81.5 129.6,81.4 129.8,83.4 130.0,82.7 130.2,86.7 130.4,84.7 130.6,85.6 130.8,96.4 131.1,87.1 131.3,89.4 131.5,86.4 131.7,87.5 131.9,88.1 132.1,99.3 132.4,95.8 132.6,87.5 132.8,94.7 133.0,98.6 133.2,88.2 133.4,88.4 133.7,83.1 133.9,82.2 134.1,83.8 134.3,81.5 134.5,77.9 134.8,90.8 135.0,81.5 135.2,71.9 135.4,73.1 135.6,77.8 135.9,74.4 136.1,84.0 136.3,76.9 136.5,83.3 136.8,86.9 137.0,75.5 137.2,79.6 137.5,82.1 137.7,79.5 137.9,81.4 138.1,84.2 138.4,97.9 138.6,88.4 138.8,84.1 139.1,90.7 139.3,82.6 139.5,85.6 139.7,73.3 140.0,73.8 140.2,71.5 140.4,72.2 140.7,73.4 140.9,72.0 141.1,83.0 141.4,71.8 141.6,73.7 141.9,67.6 142.1,66.5 142.3,70.1 142.6,64.5 142.8,72.2 143.0,62.6 143.3,65.8 143.5,65.0 143.8,66.9 144.0,68.8 144.2,60.0 144.5,64.2 144.7,62.1 145.0,59.7 145.2,54.8 145.5,52.2 145.7,53.8 145.9,56.3 146.2,57.9 146.4,50.4 146.7,49.2 146.9,61.4 147.2,53.5 147.4,48.8 147.7,51.3 147.9,61.7 148.2,64.7 148.4,55.4 148.7,54.0 148.9,50.6 149.2,48.5 149.4,47.2 149.7,45.5 149.9,48.5 150.2,46.8 150.5,46.5 150.7,46.8 151.0,53.6 151.2,54.6 151.5,46.2 151.7,48.4 152.0,52.6 152.3,49.9 152.5,49.5 152.8,50.9 153.0,51.4 153.3,55.0 153.6,55.3 153.8,57.3 154.1,53.7 154.4,50.5 154.6,48.4 154.9,45.7 155.1,44.2 155.4,41.1 155.7,43.4 156.0,45.6 156.2,42.7 156.5,35.8 156.8,35.4 157.0,32.1 157.3,33.0 157.6,30.5 157.8,29.4 158.1,28.0 158.4,27.2 158.7,25.2 158.9,25.3 159.2,23.7 159.5,22.6 159.8,22.6 160.0,23.2 160.3,23.1 160.6,23.4 160.9,23.6 161.2,24.0 161.4,24.5 161.7,24.7 162.0,23.4 162.3,24.6 162.6,24.9 162.8,25.8 163.1,25.6 163.4,26.4 163.7,28.0 164.0,30.1 164.3,31.2 164.6,31.7 164.9,32.3 165.1,33.5 165.4,34.2 165.7,35.3 166.0,35.2 166.3,36.7 166.6,37.5 166.9,36.9 167.2,37.7 167.5,38.8 167.8,38.6 168.1,39.6 168.4,40.0 168.7,39.7 169.0,39.6 169.3,40.3 169.6,40.0 169.9,40.9 170.2,40.1 170.5,40.2 170.8,38.6 171.1,39.6 171.4,39.5 171.7,40.3 172.0,38.7 172.3,40.3 172.6,39.1 172.9,39.5 173.2,40.0 173.5,38.8 173.8,37.8 174.2,38.4 174.5,38.4 174.8,38.8 175.1,38.9 175.4,38.3 175.7,37.8 176.0,37.8 176.4,38.4 176.7,37.3 177.0,37.3 177.3,36.6 177.6,35.3 177.9,35.1 178.3,35.1 178.6,35.5 178.9,36.5 179.2,36.5 179.6,36.0 179.9,38.0 180.2,35.6 180.5,34.8 180.9,34.4 181.2,33.7 181.5,32.2 181.9,30.3 182.2,31.6 182.5,30.2 182.9,28.3 183.2,26.9 183.5,26.8 183.9,25.3 184.2,24.9 184.5,24.2 184.9,23.7 185.2,22.2 185.5,22.0 185.9,20.5 186.2,20.3 186.6,20.0 186.9,19.7 187.3,19.2 187.6,20.8 188.0,19.8 188.3,19.0 188.7,19.6 189.0,20.1 189.3,20.7 189.7,19.6 190.1,20.0 190.4,18.9 190.8,18.9 191.1,17.5 191.5,18.9 191.8,17.4 192.2,17.6 192.5,17.4 192.9,17.5 193.3,16.2 193.6,15.9 194.0,16.0 194.3,14.9 194.7,13.6 195.1,14.3 195.4,12.7 195.8,14.6 196.2,15.5 196.5,15.9 196.9,16.8 197.3,16.2 197.7,17.8 198.0,18.3 198.4,21.0 198.8,22.0 199.2,23.1 199.5,25.1 199.9,27.0 200.3,25.7 200.7,28.5 201.1,30.7 201.4,31.3 201.8,33.8 202.2,35.3 202.6,38.6 203.0,39.9 203.4,42.2 203.8,44.2 204.1,46.0 204.5,48.8 204.9,48.6 205.3,49.4 205.7,51.1 206.1,54.3 206.5,57.9 206.9,61.7 207.3,63.4 207.7,65.2 208.1,67.2 208.5,67.2 208.9,69.7 209.3,68.7 209.7,69.2 210.1,70.0 210.5,69.7 210.9,70.8 211.4,70.6 211.8,70.4 212.2,69.4 212.6,69.0 213.0,68.5 213.4,68.7 213.8,68.9 214.3,68.7 214.7,68.5 215.1,69.5 215.5,68.1 215.9,69.1 216.4,70.4 216.8,70.2 217.2,72.2 217.6,72.8 218.1,74.9 218.5,75.6 218.9,77.2 219.4,78.1 219.8,78.6 220.2,78.3 220.7,79.1 221.1,80.0 221.6,81.8 222.0,82.1 222.4,83.9 222.9,85.2 223.3,86.0 223.8,86.8 224.2,88.5 224.7,88.7 225.1,91.4 225.6,91.8 226.0,93.3 226.5,93.9 226.9,94.4 227.4,94.9 227.9,95.6 228.3,95.9 228.8,96.3 229.2,94.8 229.7,97.1 230.2,97.9 230.6,98.2 231.1,100.1 231.6,101.5 232.0,101.7 232.5,103.6 233.0,104.2 233.5,105.5 233.9,106.8 234.4,107.3 234.9,109.3 235.4,109.6 235.9,110.5 236.3,111.0 236.8,113.1 237.3,115.4 237.8,115.7 238.3,118.4 238.8,120.6 239.3,120.9 239.8,119.3 240.3,119.1 240.8,120.7 241.3,122.0 241.8,122.8 242.3,124.5 242.8,124.5 243.3,128.6 243.8,129.0 244.3,131.6 244.8,131.2 245.3,133.8 245.8,133.6 246.4,134.8 246.9,137.1 247.4,139.8 247.9,141.4 248.4,142.0 249.0,142.2 249.5,143.5 250.0,144.4 250.5,146.6 251.1,145.4 251.6,146.3 252.1,149.3 252.7,148.6 253.2,150.5 253.8,152.4 254.3,153.6 254.8,155.1 255.4,152.5 255.9,157.1 256.5,154.9 257.0,160.7 257.6,158.0 258.1,159.9 258.7,159.2 259.2,164.2 259.8,162.2 260.4,162.3 260.9,159.8 261.5,163.2 262.1,172.4" fill="none" stroke="#EDB120" stroke-width="1.0" stroke-linejoin="round"/><polyline points="262.1,172.4 262.6,180.5 263.2,197.1 263.8,200.7 264.4,240.0 264.9,240.0 265.5,240.0 266.1,187.5 266.7,186.5 267.3,215.8 267.8,240.0 268.4,211.9 269.0,216.6 269.6,226.7 270.2,203.9 270.8,183.3 271.4,189.4 272.0,189.2 272.6,189.2 273.2,226.9 273.8,216.1 274.4,191.2 275.0,223.5 275.7,193.1 276.3,204.0 276.9,186.4 277.5,188.1 278.1,184.7 278.8,201.3 279.4,192.7 280.0,212.9 280.6,202.9 281.3,220.0 281.9,196.5 282.5,191.7 283.2,203.3 283.8,200.8 284.5,194.5 285.1,204.2 285.8,205.0 286.4,194.2 287.1,195.7 287.7,186.0 288.4,215.5 289.0,217.4 289.7,182.7 290.4,206.0 291.0,205.8 291.7,240.0 292.4,185.4 293.1,211.5 293.7,240.0 294.4,191.8 295.1,188.2 295.8,219.4 296.5,202.1 297.2,240.0 297.9,190.4 298.6,240.0 299.3,190.2 300.0,193.1 300.7,199.4 301.4,189.8 302.1,207.6 302.8,240.0 303.5,208.3 304.2,224.0 304.9,193.6 305.7,187.2 306.4,181.5 307.1,211.3 307.8,194.3 308.6,195.1 309.3,179.8 310.1,211.4 310.8,197.8 311.5,206.5 312.3,240.0 313.0,213.9 313.8,188.8 314.5,203.2 315.3,212.9 316.1,240.0 316.8,221.8 317.6,194.2 318.4,193.9 319.1,195.3 319.9,227.0 320.7,201.2" fill="none" stroke="#EDB120" stroke-width="0.7" stroke-linejoin="round"/><polyline points="44.0,195.0 44.2,240.0 44.4,191.0 44.7,189.6 44.9,186.9 45.1,240.0 45.3,209.4 45.5,188.1 45.8,240.0 46.0,184.3 46.2,190.2 46.4,190.3 46.7,212.3 46.9,182.6 47.1,183.5 47.3,207.1 47.6,194.2 47.8,196.8 48.0,198.2 48.3,224.9 48.5,180.7 48.7,183.4 49.0,190.4 49.2,212.0 49.4,221.6 49.7,218.2 49.9,181.6 50.1,240.0 50.4,193.5 50.6,213.1 50.9,194.9 51.1,206.6 51.4,204.2 51.6,213.2 51.8,186.5 52.1,194.0 52.3,188.0 52.6,186.7 52.8,191.3 53.1,192.6 53.3,191.1 53.6,240.0 53.8,191.5 54.1,190.9 54.3,176.8 54.5,180.1 54.7,185.6 54.9,240.0 55.0,215.1 55.2,193.1 55.4,208.1 55.5,185.3 55.7,183.5 55.9,187.9 56.1,189.1 56.2,195.0 56.4,175.3 56.6,198.6 56.8,199.1 56.9,181.8 57.1,178.3 57.3,183.8 57.5,183.9 57.7,177.5 57.8,197.6 58.0,188.5 58.2,209.5 58.4,179.1 58.6,207.8 58.7,240.0 58.9,197.0 59.1,236.6 59.3,199.0 59.5,176.2 59.7,185.1 59.8,173.3 60.0,217.4 60.2,193.4 60.4,186.5 60.6,180.6 60.8,179.4 61.0,240.0 61.1,181.0 61.3,189.7 61.5,193.8 61.7,181.9 61.9,179.4 62.1,189.6 62.3,197.6 62.5,195.6 62.7,170.0 62.9,214.6 63.1,192.9 63.2,184.9 63.4,181.9 63.6,186.6 63.8,188.8 64.0,191.2 64.2,183.6 64.4,178.0 64.6,194.9 64.8,176.3 65.0,197.2 65.2,196.1 65.4,208.6 65.6,230.3 65.8,188.4 66.0,201.8 66.2,193.2 66.4,191.3 66.6,185.8 66.8,190.4 67.0,192.2 67.2,197.7 67.4,180.4 67.6,179.4 67.9,176.6 68.1,191.0 68.3,201.8 68.5,180.1 68.7,196.8 68.9,192.3 69.1,201.0 69.3,218.4 69.5,195.3 69.7,191.1 70.0,186.0 70.2,182.3 70.4,193.3 70.6,187.4 70.8,193.7 71.0,240.0 71.2,175.2 71.5,205.8 71.7,194.3 71.9,203.3 72.1,176.4 72.3,201.3 72.6,187.2 72.8,176.0 73.0,224.4 73.2,192.3 73.4,191.9 73.7,188.2 73.9,191.4 74.1,183.6 74.3,178.0 74.6,184.7 74.8,195.3 75.0,204.5 75.3,200.3 75.5,192.7 75.7,188.8 75.9,221.5 76.2,187.4 76.4,204.0 76.6,214.2 76.9,196.2 77.1,188.9 77.3,182.1 77.6,176.0 77.8,198.0 78.0,240.0 78.3,179.6 78.5,185.5 78.8,182.5 79.0,188.9 79.2,187.4 79.5,178.5 79.7,191.8 80.0,177.5 80.2,181.6 80.5,190.0 80.7,185.9 80.9,172.4 81.2,186.0 81.4,192.3 81.7,190.7 81.9,188.9 82.2,197.7 82.4,179.4 82.7,190.2 82.9,183.2 83.2,180.3 83.4,170.8 83.7,173.0 84.0,173.7 84.2,174.5 84.5,167.4 84.7,177.6 85.0,172.0 85.2,165.9 85.5,173.3 85.8,166.9 86.0,166.5 86.3,161.8 86.6,178.1 86.8,157.7" fill="none" stroke="#7E2F8E" stroke-width="1.1" stroke-linejoin="round"/><polyline points="86.6,178.1 86.8,157.7 87.1,160.2 87.4,167.1 87.6,163.0 87.9,161.5 88.2,159.1 88.4,161.2 88.7,161.1 89.0,156.8 89.2,155.0 89.5,155.9 89.8,156.7 90.1,150.8 90.3,149.1 90.6,148.4 90.9,150.5 91.2,148.6 91.4,147.5 91.7,147.0 92.0,145.9 92.3,143.1 92.6,142.3 92.9,140.1 93.1,139.8 93.4,136.3 93.7,135.5 94.0,134.9 94.3,134.3 94.6,135.5 94.9,132.4 95.2,133.4 95.5,130.8 95.8,126.9 96.1,127.3 96.3,126.8 96.6,126.0 96.9,122.9 97.2,123.3 97.5,123.4 97.8,123.6 98.1,122.2 98.4,118.8 98.8,119.3 99.1,119.0 99.4,118.8 99.7,115.5 100.0,117.1 100.3,114.3 100.6,112.8 100.9,111.1 101.2,109.7 101.5,110.5 101.9,108.9 102.2,105.9 102.5,106.6 102.8,104.2 103.1,102.1 103.4,101.5 103.8,100.4 104.1,99.7 104.4,96.5 104.7,96.2 105.1,96.4 105.4,94.1 105.7,92.0 106.1,89.8 106.4,88.9 106.7,89.5 107.1,89.0 107.4,88.2 107.7,88.1 108.1,85.4 108.4,84.1 108.7,85.4 108.9,86.1 109.1,84.5 109.3,83.5 109.4,81.2 109.6,85.0 109.8,81.9 109.9,82.4 110.1,82.6 110.3,82.1 110.5,81.2 110.6,81.4 110.8,81.3 111.0,79.7 111.2,78.6 111.3,80.8 111.5,81.3 111.7,80.6 111.9,79.9 112.0,81.3 112.2,80.5 112.4,80.2 112.6,80.7 112.7,82.2 112.9,80.8 113.1,78.6 113.3,80.6 113.5,80.2 113.6,79.5 113.8,80.4 114.0,79.5 114.2,79.8 114.4,78.6 114.5,77.3 114.7,78.1 114.9,79.4 115.1,79.1 115.3,78.5 115.4,79.0 115.6,77.9 115.8,77.8 116.0,77.7 116.2,77.5 116.4,78.9 116.6,77.6 116.7,78.3 116.9,76.4 117.1,78.8 117.3,77.5 117.5,78.2 117.7,76.5 117.9,77.3 118.0,75.9 118.2,76.6 118.4,78.8 118.6,78.3 118.8,75.1 119.0,77.0 119.2,75.9 119.4,73.4 119.6,75.3 119.7,74.2 119.9,76.6 120.1,74.7 120.3,73.5 120.5,73.1 120.7,74.3 120.9,75.0 121.1,72.5 121.3,73.2 121.5,73.5 121.7,73.0 121.9,71.9 122.1,73.7 122.3,74.7 122.5,73.5 122.7,72.6 122.9,74.0 123.0,72.5 123.2,74.8 123.4,68.3 123.6,70.9 123.8,73.8 124.0,65.2 124.2,68.0 124.4,71.3 124.6,66.1 124.8,66.8 125.0,66.5 125.2,66.6 125.4,64.3 125.7,67.0 125.9,66.5 126.1,67.4 126.3,63.4 126.5,67.6 126.7,71.8 126.9,63.9 127.1,64.4 127.3,62.0 127.5,63.7 127.7,64.5 127.9,62.0 128.1,63.7 128.3,63.1 128.5,66.6 128.7,67.6 128.9,65.7 129.2,66.8 129.4,65.3 129.6,66.1 129.8,69.1 130.0,65.7 130.2,67.0 130.4,70.4 130.6,70.9 130.8,73.6 131.1,73.9 131.3,72.8 131.5,75.4 131.7,83.2 131.9,72.3 132.1,70.4 132.4,69.5 132.6,70.9 132.8,74.8 133.0,76.0 133.2,72.5 133.4,63.2 133.7,62.3 133.9,65.2 134.1,60.0 134.3,63.2 134.5,68.9 134.8,56.2 135.0,56.3 135.2,56.4 135.4,60.9 135.6,65.5 135.9,55.2 136.1,56.8 136.3,57.8 136.5,59.3 136.8,60.5 137.0,67.8 137.2,72.7 137.5,66.0 137.7,66.0 137.9,59.2 138.1,70.2 138.4,56.8 138.6,60.6 138.8,57.6 139.1,57.2 139.3,53.8 139.5,60.6 139.7,53.7 140.0,51.8 140.2,51.2 140.4,49.5 140.7,50.8 140.9,59.8 141.1,53.0 141.4,53.7 141.6,59.5 141.9,55.6 142.1,44.8 142.3,50.9 142.6,44.5 142.8,44.2 143.0,46.9 143.3,42.9 143.5,41.6 143.8,40.8 144.0,47.0 144.2,41.9 144.5,40.7 144.7,41.1 145.0,42.1 145.2,47.6 145.5,39.5 145.7,39.2 145.9,47.8 146.2,38.7 146.4,48.5 146.7,38.0 146.9,39.3 147.2,37.2 147.4,47.7 147.7,36.8 147.9,38.9 148.2,35.9 148.4,35.7 148.7,34.2 148.9,36.3 149.2,35.0 149.4,36.3 149.7,34.0 149.9,36.8 150.2,39.6 150.5,36.7 150.7,39.0 151.0,44.9 151.2,42.0 151.5,38.4 151.7,37.4 152.0,39.0 152.3,38.3 152.5,39.0 152.8,38.0 153.0,37.8 153.3,38.3 153.6,36.6 153.8,38.9 154.1,37.6 154.4,38.6 154.6,34.5 154.9,33.5 155.1,31.7 155.4,32.4 155.7,31.3 156.0,30.2 156.2,29.7 156.5,32.4 156.8,29.0 157.0,28.3 157.3,29.3 157.6,25.1 157.8,26.6 158.1,23.7 158.4,23.8 158.7,23.8 158.9,23.5 159.2,23.7 159.5,22.8 159.8,23.1 160.0,23.1 160.3,23.2 160.6,22.4 160.9,22.5 161.2,22.3 161.4,23.6 161.7,24.5 162.0,26.2 162.3,26.7 162.6,28.9 162.8,28.7 163.1,30.0 163.4,30.5 163.7,31.8 164.0,33.8 164.3,34.0 164.6,34.7 164.9,35.9 165.1,36.2 165.4,37.9 165.7,39.0 166.0,40.1 166.3,39.8 166.6,41.1 166.9,42.3 167.2,41.5 167.5,42.8 167.8,43.4 168.1,43.5 168.4,44.4 168.7,46.1 169.0,46.6 169.3,47.0 169.6,46.6 169.9,47.2 170.2,47.7 170.5,47.5 170.8,48.5 171.1,47.7 171.4,47.9 171.7,48.0 172.0,47.8 172.3,48.3 172.6,48.0 172.9,48.8 173.2,47.3 173.5,48.2 173.8,47.6 174.2,47.6 174.5,48.1 174.8,47.0 175.1,48.3 175.4,47.6 175.7,46.4 176.0,47.5 176.4,47.8 176.7,47.3 177.0,47.4 177.3,47.2 177.6,47.4 177.9,46.7 178.3,46.9 178.6,46.6 178.9,46.8 179.2,45.3 179.6,45.5 179.9,43.8 180.2,44.0 180.5,43.3 180.9,42.5 181.2,41.9 181.5,40.5 181.9,40.4 182.2,39.1 182.5,38.4 182.9,38.2 183.2,36.2 183.5,36.2 183.9,36.3 184.2,35.6 184.5,36.0 184.9,34.9 185.2,33.8 185.5,32.9 185.9,34.4 186.2,32.7 186.6,33.1 186.9,32.0 187.3,31.9 187.6,31.3 188.0,31.7 188.3,31.5 188.7,30.7 189.0,30.1 189.3,29.6 189.7,29.6 190.1,30.0 190.4,28.9 190.8,28.3 191.1,27.4 191.5,28.0 191.8,26.6 192.2,26.0 192.5,25.2 192.9,23.8 193.3,23.1 193.6,21.9 194.0,20.6 194.3,20.7 194.7,20.8 195.1,20.7 195.4,21.1 195.8,21.4 196.2,22.7 196.5,21.4 196.9,21.7 197.3,22.9 197.7,23.0 198.0,24.7 198.4,26.4 198.8,27.8 199.2,30.1 199.5,31.2 199.9,32.2 200.3,34.8 200.7,37.4 201.1,37.8 201.4,39.5 201.8,41.6 202.2,43.7 202.6,44.6 203.0,45.8 203.4,46.4 203.8,49.0 204.1,49.6 204.5,49.8 204.9,49.8 205.3,53.2 205.7,53.3 206.1,56.5 206.5,59.4 206.9,61.6 207.3,62.3 207.7,63.3 208.1,63.9 208.5,65.3 208.9,66.2 209.3,66.8 209.7,66.6 210.1,67.5 210.5,67.0 210.9,68.8 211.4,68.8 211.8,69.4 212.2,70.2 212.6,69.8 213.0,69.9 213.4,70.3 213.8,72.4 214.3,71.6 214.7,71.5 215.1,72.6 215.5,72.4 215.9,72.8 216.4,74.8 216.8,75.8 217.2,75.3 217.6,77.8 218.1,77.7 218.5,79.7 218.9,80.1 219.4,80.4 219.8,80.2 220.2,79.6 220.7,82.0 221.1,83.4 221.6,84.9 222.0,88.2 222.4,90.6 222.9,90.9 223.3,94.7 223.8,94.3 224.2,96.5 224.7,98.2 225.1,98.6 225.6,99.9 226.0,100.7 226.5,100.4 226.9,101.7 227.4,103.2 227.9,103.4 228.3,105.2 228.8,106.1 229.2,106.7 229.7,108.5 230.2,110.4 230.6,111.8 231.1,112.4 231.6,114.4 232.0,115.4 232.5,115.1 233.0,116.6 233.5,117.8 233.9,118.1 234.4,121.3 234.9,121.2 235.4,123.3 235.9,123.3 236.3,125.6 236.8,126.6 237.3,128.5 237.8,129.5 238.3,130.4 238.8,130.9 239.3,131.8 239.8,133.4 240.3,134.3 240.8,137.6 241.3,137.4 241.8,139.6 242.3,139.9 242.8,139.3 243.3,142.7 243.8,143.4 244.3,145.8 244.8,147.1 245.3,148.2 245.8,149.5 246.4,149.3 246.9,154.0 247.4,150.8 247.9,153.9 248.4,154.7 249.0,155.3 249.5,158.2 250.0,157.0 250.5,157.1 251.1,157.8 251.6,161.4 252.1,165.2 252.7,163.6 253.2,162.9 253.8,165.7 254.3,164.8 254.8,166.4 255.4,170.9 255.9,170.8 256.5,172.1 257.0,172.2 257.6,176.2 258.1,173.5 258.7,188.0 259.2,175.8 259.8,179.2 260.4,183.7 260.9,180.0 261.5,184.9 262.1,188.9" fill="none" stroke="#7E2F8E" stroke-width="1.0" stroke-linejoin="round"/><polyline points="262.1,188.9 262.6,213.7 263.2,240.0 263.8,202.4 264.4,240.0 264.9,207.1 265.5,240.0 266.1,221.7 266.7,217.7 267.3,200.9 267.8,212.0 268.4,207.4 269.0,211.1 269.6,197.9 270.2,204.2 270.8,214.9 271.4,227.8 272.0,240.0 272.6,240.0 273.2,204.4 273.8,240.0 274.4,222.0 275.0,200.6 275.7,207.8 276.3,240.0 276.9,240.0 277.5,193.1 278.1,205.7 278.8,199.5 279.4,189.8 280.0,196.0 280.6,229.0 281.3,206.5 281.9,221.8 282.5,229.3 283.2,221.5 283.8,210.1 284.5,240.0 285.1,230.3 285.8,195.1 286.4,240.0 287.1,206.9 287.7,196.9 288.4,192.5 289.0,201.3 289.7,208.0 290.4,200.1 291.0,240.0 291.7,202.2 292.4,195.2 293.1,210.2 293.7,206.4 294.4,201.4 295.1,240.0 295.8,209.2 296.5,197.2 297.2,205.1 297.9,214.8 298.6,234.9 299.3,202.3 300.0,240.0 300.7,200.6 301.4,240.0 302.1,207.2 302.8,240.0 303.5,224.4 304.2,240.0 304.9,214.0 305.7,208.7 306.4,211.1 307.1,240.0 307.8,209.8 308.6,231.3 309.3,224.4 310.1,222.2 310.8,209.7 311.5,209.4 312.3,201.6 313.0,204.4 313.8,240.0 314.5,240.0 315.3,240.0 316.1,232.0 316.8,193.9 317.6,222.3 318.4,200.4 319.1,201.5 319.9,201.2 320.7,215.0" fill="none" stroke="#7E2F8E" stroke-width="1.1" stroke-linejoin="round"/></g>
<g font-family="Liberation Sans, sans-serif" fill="#262626" stroke="#262626" stroke-width="0.3" font-size="13" text-anchor="middle">
<text x="44.5" y="230.7">1500</text>
<text x="84.9" y="230.7">2000</text>
<text x="125.4" y="230.7">2500</text>
<text x="165.8" y="230.7">3000</text>
<text x="206.2" y="230.7">3500</text>
<text x="246.7" y="230.7">4000</text>
<text x="287.1" y="230.7">4500</text>
<text x="327.5" y="230.7">5000</text>
</g>
<g font-family="Liberation Sans, sans-serif" fill="#262626" stroke="#262626" stroke-width="0.3"><text x="18.5" y="76.2" font-size="13">10<tspan font-size="10" dx="0.6" dy="-6.1">2</tspan></text><text x="18.5" y="182.8" font-size="13">10<tspan font-size="10" dx="0.6" dy="-6.1">0</tspan></text></g>
<text x="185" y="250.8" font-family="Liberation Sans, sans-serif" font-size="15.5" fill="#262626" stroke="#262626" stroke-width="0.3" text-anchor="middle">Wavelength (nm)</text>
<text transform="translate(10.9,106) rotate(-90)" x="0" y="0" font-family="Liberation Sans, sans-serif" font-size="15.5" fill="#262626" stroke="#262626" stroke-width="0.3" text-anchor="middle">Intensity (au)</text>
</svg>
</body></html>
